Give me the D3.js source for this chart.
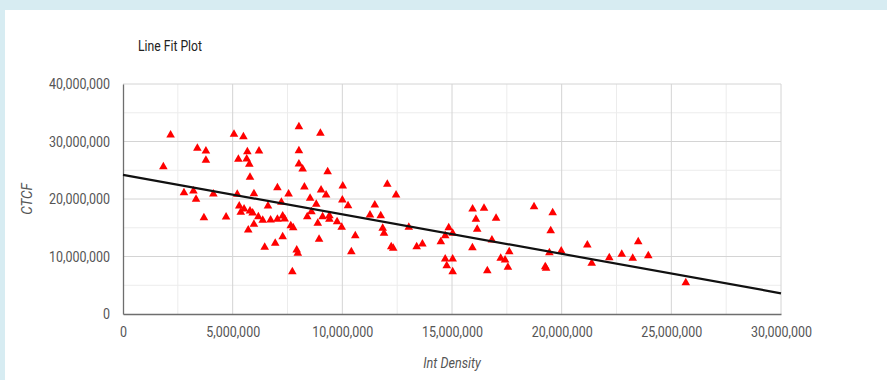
<!DOCTYPE html>
<html>
<head>
<meta charset="utf-8">
<script src="https://cdn.jsdelivr.net/npm/d3@7"></script>
<style>
  html, body { margin: 0; padding: 0; background: #d7ecf2; }
  #panel { position: absolute; left: 5px; top: 10px; width: 882px; height: 370px; background: #fff; }
  svg { display: block; }
  text { font-family: Roboto, "Liberation Sans", sans-serif; }
</style>
</head>
<body>
<div id="panel"></div>
<script>
// Int Density (x) and CTCF (y), millions
const intDensity = [
  2.17, 5.06, 5.49, 3.39, 3.78, 3.78, 5.67, 6.20, 5.26, 5.64,
  5.76, 1.84, 5.79, 2.78, 3.21, 3.33, 4.12, 5.21, 5.97, 5.30,
  5.52, 5.37, 5.79, 5.91, 6.17, 3.69, 4.70, 5.97, 5.71,
  8.02, 9.00, 8.02, 8.02, 8.19, 9.33, 7.04, 8.27, 9.03, 10.02,
  7.55, 9.26, 8.53, 10.00, 7.22, 8.81, 6.61, 10.26, 8.59, 8.40,
  9.10, 9.41, 9.41, 6.37, 6.73, 7.04, 7.28, 7.37, 7.65, 7.76,
  8.88, 9.76, 9.97, 10.59, 7.28, 6.94, 6.46, 8.94, 7.92, 7.97,
  10.41, 7.72,
  12.05, 12.45, 11.48, 11.26, 11.75, 11.84, 11.90, 13.03, 12.23, 12.32,
  13.39, 13.65, 14.49, 14.69, 14.85, 15.03, 14.69, 15.03, 14.76, 15.03,
  15.94, 16.09, 16.15, 15.93,
  16.46, 17.01, 18.74, 19.59, 19.50, 16.82, 17.61, 17.22, 17.42, 17.55,
  16.61, 19.44, 19.98, 19.25, 19.29, 21.17,
  21.37, 22.17, 22.74, 23.24, 23.49, 23.95, 25.66
];
const ctcf = [
  31.13, 31.25, 30.83, 28.82, 28.35, 26.73, 28.23, 28.35, 26.90, 26.96,
  26.03, 25.62, 23.77, 21.10, 21.39, 19.95, 20.87, 20.82, 20.92, 18.78,
  18.26, 17.69, 17.91, 17.57, 16.92, 16.75, 16.87, 15.60, 14.61,
  32.57, 31.43, 28.40, 26.09, 25.22, 24.75, 21.97, 22.09, 21.57, 22.26,
  20.87, 20.70, 20.12, 19.83, 19.43, 19.08, 18.78, 18.83, 17.79, 16.92,
  16.92, 17.10, 16.47, 16.30, 16.35, 16.47, 17.04, 16.52, 15.36, 15.01,
  15.77, 16.05, 15.08, 13.62, 13.44, 12.30, 11.60, 12.99, 11.13, 10.56,
  10.83, 7.36,
  22.56, 20.70, 18.96, 17.22, 17.10, 14.90, 14.03, 15.08, 11.70, 11.43,
  11.70, 12.17, 12.57, 13.62, 15.01, 14.03, 9.57, 9.57, 8.40, 7.36,
  18.26, 16.47, 14.73, 11.53,
  18.38, 16.64, 18.66, 17.62, 14.49, 12.87, 10.83, 9.69, 9.39, 8.12,
  7.53, 10.66, 10.96, 8.23, 7.95, 12.00,
  8.82, 9.79, 10.38, 9.69, 12.57, 10.14, 5.44
];
// fitted line end points
const trendX = [0, 30];
const trendY = [24.2, 3.6];

const xTicks = [0, 5, 10, 15, 20, 25, 30];
const yTicks = [0, 10, 20, 30, 40];
const xMinor = [2.5, 7.5, 12.5, 17.5, 22.5, 27.5];
const yMinor = [5, 15, 25, 35];

const chartTitle = "Line Fit Plot";
const xTitle = "Int Density";
const yTitle = "CTCF";

const M = 1e6;
const W = 882, H = 370;
// panel offset is 5,10 in the page
const plotL = 118, plotR = 776, plotT = 74, plotB = 304;

const svg = d3.select("#panel").append("svg")
  .attr("width", W)
  .attr("height", H);

const x = d3.scaleLinear().domain([0, 30 * M]).range([plotL, plotR]);
const y = d3.scaleLinear().domain([0, 40 * M]).range([plotB, plotT]);
const fmt = d3.format(",");

// squeeze text to look like the narrow font of the original
function condense(sel, k) {
  sel.each(function() {
    const w = this.getComputedTextLength();
    d3.select(this).attr("textLength", w * k).attr("lengthAdjust", "spacingAndGlyphs");
  });
}

// minor grid
svg.append("g").selectAll("line").data(xMinor).join("line")
  .attr("x1", d => x(d * M)).attr("x2", d => x(d * M))
  .attr("y1", plotT).attr("y2", plotB)
  .attr("stroke", "#ececec").attr("stroke-width", 1);
svg.append("g").selectAll("line").data(yMinor).join("line")
  .attr("x1", plotL).attr("x2", plotR)
  .attr("y1", d => y(d * M)).attr("y2", d => y(d * M))
  .attr("stroke", "#ececec").attr("stroke-width", 1);

// major grid
svg.append("g").selectAll("line").data(xTicks.slice(1)).join("line")
  .attr("x1", d => x(d * M)).attr("x2", d => x(d * M))
  .attr("y1", plotT).attr("y2", plotB)
  .attr("stroke", "#d4d4d4").attr("stroke-width", 1);
svg.append("g").selectAll("line").data(yTicks.slice(1)).join("line")
  .attr("x1", plotL).attr("x2", plotR)
  .attr("y1", d => y(d * M)).attr("y2", d => y(d * M))
  .attr("stroke", "#d4d4d4").attr("stroke-width", 1);

// axes
const xAxis = d3.axisBottom(x).tickValues(xTicks.map(d => d * M))
  .tickFormat(fmt).tickSize(0).tickPadding(13);
const yAxis = d3.axisLeft(y).tickValues(yTicks.map(d => d * M))
  .tickFormat(fmt).tickSize(0).tickPadding(13);

const gx = svg.append("g")
  .attr("transform", "translate(0," + plotB + ")")
  .call(xAxis);
const gy = svg.append("g")
  .attr("transform", "translate(" + plotL + ",0)")
  .call(yAxis);

[gx, gy].forEach(g => {
  g.select(".domain").attr("stroke", "#6e6e6e").attr("stroke-width", 1.3);
  g.selectAll("text")
    .attr("fill", "#555")
    .style("font-family", "Roboto, sans-serif")
    .style("font-size", "14.5px");
  condense(g.selectAll("text"), 0.86);
});

// points
const pts = intDensity.map((d, i) => [d * M, ctcf[i] * M]);
svg.append("g").selectAll("path").data(pts).join("path")
  .attr("transform", d => "translate(" + x(d[0]) + "," + y(d[1]) + ")")
  .attr("d", d3.symbol().type(d3.symbolTriangle).size(32))
  .attr("fill", "#ff0000");

// fitted line
const line = d3.line().x(d => x(d[0] * M)).y(d => y(d[1] * M));
svg.append("path")
  .datum(trendX.map((d, i) => [d, trendY[i]]))
  .attr("d", line)
  .attr("fill", "none")
  .attr("stroke", "#111")
  .attr("stroke-width", 2.2);

// titles
const t1 = svg.append("text")
  .attr("x", 133).attr("y", 41)
  .attr("fill", "#222")
  .style("font-size", "14.5px")
  .text(chartTitle);
condense(t1, 0.84);

const t2 = svg.append("text")
  .attr("x", x(15 * M)).attr("y", 358)
  .attr("text-anchor", "middle")
  .attr("fill", "#555")
  .style("font-size", "15px")
  .style("font-style", "italic")
  .text(xTitle);
condense(t2, 0.84);

const t3 = svg.append("text")
  .attr("transform", "translate(27," + y(20 * M) + ") rotate(-90)")
  .attr("text-anchor", "middle")
  .attr("fill", "#555")
  .style("font-size", "15px")
  .style("font-style", "italic")
  .text(yTitle);
condense(t3, 0.9);
</script>
</body>
</html>
